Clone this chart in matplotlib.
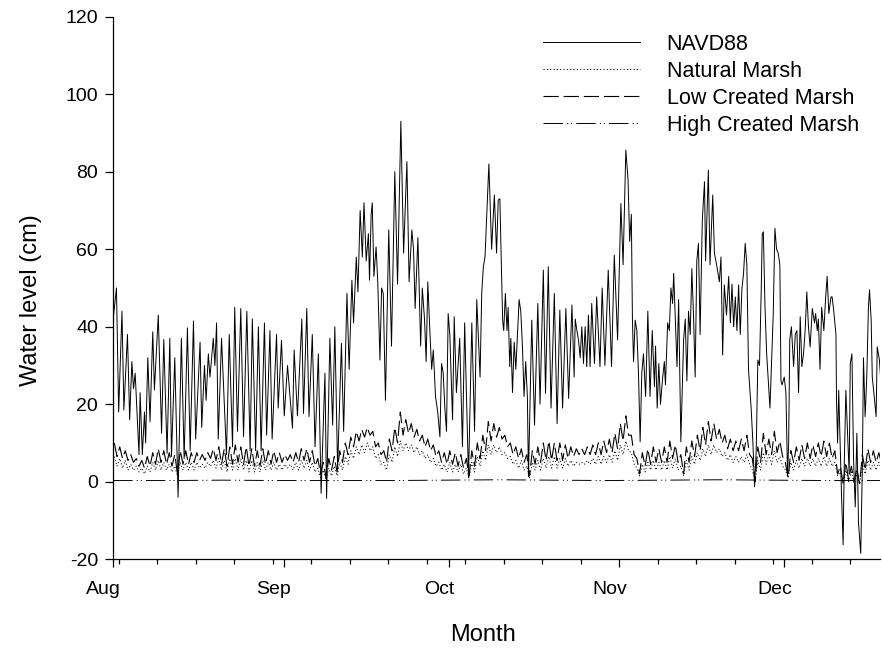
import numpy as np
import matplotlib
matplotlib.use('Agg')
import matplotlib.pyplot as plt
import matplotlib.transforms as mtransforms
from matplotlib.ticker import FixedLocator

plt.rcParams['font.family'] = ['Liberation Sans', 'DejaVu Sans']
plt.rcParams['lines.scale_dashes'] = False
plt.rcParams['axes.unicode_minus'] = False

# ---- axis data ----
month_labels = ['Aug', 'Sep', 'Oct', 'Nov', 'Dec']
month_days = [0, 31, 61, 92, 122]          # days since Aug 1
week_days = [1, 8, 15, 22, 29, 36, 43, 50, 57, 64, 71, 78, 85, 92, 99,
             106, 113, 120, 127, 134]
y_ticks = [-20, 0, 20, 40, 60, 80, 100, 120]

# ---- NAVD88 water level: turning points (day since Aug 1, cm) ----
navd_days = [
    0.0, 0.6, 1.0, 1.6, 1.95, 2.6, 3.0, 3.4, 3.7, 4.0, 4.7, 4.9, 5.3, 5.7, 5.9,
    6.3, 6.7, 7.2, 7.5, 8.2, 8.8, 9.2, 9.8, 10.3, 10.6, 11.2, 11.8, 12.4, 12.9,
    13.5, 14.0, 14.6, 15.0, 15.8, 16.1, 16.6, 16.9, 17.3, 17.6, 18.2, 18.5, 18.8,
    19.1, 19.7, 20.6, 21.1, 21.7, 22.1, 22.6, 23.2, 23.7, 24.3, 24.9, 25.3, 25.9,
    26.4, 26.9, 27.5, 27.9, 28.5, 28.9, 29.7, 30.0, 30.6, 31.1, 31.7, 32.6, 32.9,
    33.5, 34.3, 34.6, 35.2, 35.6, 36.2, 36.7, 37.3, 37.8, 38.5, 38.8, 39.4, 39.9,
    40.3, 40.8, 41.5, 41.9, 42.5, 42.9, 43.4, 43.7, 44.2, 44.5, 44.9, 45.3, 45.6,
    46.0, 46.4, 46.6, 46.9, 47.1, 47.4, 47.8, 48.1, 48.5, 48.8, 49.1, 49.5, 50.1,
    50.6, 51.2, 51.7, 52.3, 52.8, 53.4, 53.8, 54.3, 54.6, 54.9, 55.4, 55.9, 56.2,
    56.6, 56.9, 57.2, 57.6, 57.9, 58.2, 58.6, 59.0, 59.4, 59.7, 60.0, 60.3, 60.6,
    60.9, 61.2, 61.7, 62.0, 62.4, 63.0, 63.5, 63.9, 64.6, 65.2, 65.7, 66.1, 66.7,
    67.0, 67.3, 67.6, 68.3, 68.8, 69.3, 69.7, 70.0, 70.3, 70.8, 71.0, 71.3, 71.6,
    71.8, 72.1, 72.3, 72.6, 72.9, 73.2, 73.5, 73.8, 74.1, 74.4, 74.7, 75.0, 75.3,
    75.5, 76.1, 76.6, 77.2, 77.6, 78.2, 78.6, 79.1, 79.6, 80.2, 80.7, 81.2, 81.7,
    82.3, 82.8, 83.4, 83.8, 84.0, 84.3, 84.6, 84.9, 85.2, 85.5, 85.8, 86.1, 86.4,
    86.7, 87.0, 87.5, 87.9, 88.5, 88.9, 89.4, 90.0, 90.6, 91.1, 91.7, 92.3, 92.7,
    93.2, 93.6, 93.9, 94.2, 94.4, 94.6, 94.9, 95.2, 95.5, 95.8, 96.1, 96.4, 96.8,
    97.2, 97.6, 98.0, 98.4, 98.6, 98.9, 99.2, 99.5, 99.9, 100.2, 100.4, 100.8,
    101.1, 101.4, 101.7, 101.9, 102.1, 102.5, 102.8, 103.2, 103.7, 104.0, 104.3,
    104.6, 104.9, 105.2, 105.5, 105.8, 106.1, 106.4, 106.7, 107.1, 107.5, 107.7,
    108.2, 108.5, 109.0, 109.3, 109.7, 110.2, 110.5, 110.8, 111.1, 111.5, 111.9,
    112.2, 112.5, 112.8, 113.1, 113.4, 113.7, 114.0, 114.3, 114.6, 114.9, 115.2,
    115.5, 116.0, 116.3, 116.6, 116.9, 117.2, 117.5, 117.8, 118.0, 118.2, 118.5,
    118.8, 119.1, 119.4, 119.7, 120.0, 120.3, 120.6, 120.9, 121.2, 121.4, 121.6,
    122.0, 122.3, 122.6, 122.8, 123.0, 123.3, 123.7, 124.0, 124.3, 124.6, 124.9,
    125.2, 125.5, 125.8, 126.1, 126.4, 126.7, 127.1, 127.5, 127.7, 128.0, 128.2,
    128.5, 128.8, 129.2, 129.5, 129.8, 130.1, 130.5, 130.7, 131.0, 131.4, 131.5,
    131.7, 131.9, 132.2, 132.4, 132.7, 132.9, 133.2, 133.5, 133.8, 134.0, 134.3,
    134.6, 134.9, 135.2, 135.5, 135.9, 136.2, 136.4, 136.7, 137.0, 137.3, 137.5,
    137.8, 138.0, 138.3, 138.7, 138.9, 139.3, 139.6]
navd_vals = [
    42, 50, 18, 44, 18.5, 38, 16, 31, 24, 28, 7, 23, 7, 18, 10,
    32, 15.5, 38.7, 23.7, 43, 12.5, 36.7, 7.3, 37, 6.5, 32, -4, 37, 6,
    39.7, 8, 41.5, 11, 36, 14, 30, 21, 33, 27, 37, 30, 41,
    11, 37, 7, 38, 9, 45, 13, 44.7, 11.6, 44, 8, 42, 8,
    40, 8, 41, 12, 39, 11, 38, 19, 36.5, 17, 30, 13.8, 34,
    17, 42, 17.6, 44.7, 16.8, 38, 9, 33, -3, 28, -4.3, 37, 14.6,
    40, 3.4, 35.7, 13, 48.6, 29, 52, 41, 58, 49, 70, 58, 72,
    57, 64, 52, 69, 72, 53, 60.6, 51.6, 31.4, 50, 48.6, 21, 65,
    35, 80, 51, 93, 59, 82.6, 51.6, 65, 60, 44.7, 63, 35, 50,
    42, 31, 51.6, 38, 29, 34, 22, 18, 11.6, 30.5, 28, 19, 13,
    43.4, 38, 16, 42.6, 23, 37, 9, 41, 1, 41, 13, 47, 27,
    48.6, 55.5, 58, 82, 60, 74, 59, 72.7, 73, 41.7, 39, 48.6, 39,
    45, 29.7, 37, 23, 36, 29, 38, 47, 44, 35, 22, 31, 22,
    1.3, 41.7, 14.6, 46, 20, 54.6, 22.8, 55.5, 19, 48.6, 15, 44.3, 19,
    44.7, 21.5, 45.6, 27, 42, 39, 36.5, 32, 40, 30.5, 40, 29.7, 43,
    29.7, 46, 30.5, 47.7, 29.7, 50, 30, 54.6, 29.7, 58.5, 36.6, 71.8, 56,
    85.6, 78, 62, 69, 41.7, 31, 41.7, 39, 28, 10.3, 28, 33, 22,
    44, 22, 39, 24.5, 35, 19, 30.5, 20, 27, 31, 25, 41,
    39, 50, 46, 53.8, 46, 29.7, 47, 10.3, 36.6, 42, 26,
    44, 38, 55, 43, 27, 57, 61.5, 38, 67.5, 77.4, 57,
    80.4, 56, 74, 59, 56, 51.6, 58, 32.7, 50.8, 43, 53,
    41, 51, 40, 47.7, 39, 50.8, 38, 49.8, 53.8, 61.5, 56,
    29, 18.5, 10, -1.3, 8, 31.4, 30, 48.6, 64, 64.5, 45,
    33, 26, 19, 31, 43.4, 65.4, 60, 59, 56, 26, 25,
    27, 23, 1.7, 10, 36.6, 40, 29.7, 38, 39, 23, 42.6,
    29.7, 33, 39, 49, 40, 34.8, 44.7, 41, 43.4, 39, 42,
    29, 45, 39, 47, 53, 43.4, 47.7, 47.7, 44, 38, 21,
    10, 23.6, 7, -3, -16.3, 3.9, 23.6, 12.5, 2, 30.5, 33,
    5.6, -6.5, 12.5, -10.8, -18.5, 3.9, 32, 16.8, 27, 45, 49.5,
    41.7, 27, 22.8, 16.8, 34.8, 31.4, 25]

# ---- Low Created Marsh: daily high / low (cm), days 0..139 ----
lcm_high = [
    10, 9, 8, 7, 6, 5.5, 6.5, 7.5, 8.5, 8,
    7.5, 7, 8, 8, 7.5, 7.5, 7, 7.5, 8.5, 9,
    8.5, 9, 9.5, 9, 9, 8.5, 8, 8.5, 8, 8,
    7.5, 7, 7, 7.5, 8.5, 8.5, 8, 6, 5, 6,
    6.5, 8, 10, 11.5, 13, 13.5, 14, 13, 10, 8,
    11, 14, 18, 16, 15, 13.5, 12, 11, 9.5, 8,
    7.5, 8, 7.5, 7, 6, 8, 10, 12, 15.5, 15,
    14, 12, 10, 9, 8.5, 7, 8, 9, 10, 10.5,
    10, 10, 9.5, 9, 8.5, 8.5, 9, 9.5, 10, 10.5,
    11, 12.5, 15, 17, 12, 6, 7.5, 8.5, 9, 8.5,
    9, 10.5, 9.5, 7, 9, 10.5, 12, 14, 15.5, 15,
    13.5, 12, 11, 10.5, 11, 12, 6, 9, 12.5, 11,
    13, 10.5, 5, 8, 9, 9.5, 10, 9.5, 10, 10.5,
    10, 8, 4, 5, 4, 3.5, 7, 8.5, 8, 7.5]
lcm_low = [
    6.5, 6, 5.5, 5, 4, 3.5, 4, 4.5, 5, 4.5,
    4, 2, 4.5, 4.5, 5, 5.5, 5.5, 6, 5.5, 4.5,
    4, 4.5, 5, 4.5, 4, 4, 4, 4.5, 4.5, 5,
    5, 5.5, 5, 5, 5.5, 5, 4, 2, 1, 3,
    2.5, 5, 7, 9, 10.5, 11.5, 12, 9, 7, 5,
    8, 10, 12, 12.5, 11.5, 10.5, 9, 8, 6.5, 5,
    4.5, 4.5, 4, 3.5, 1.5, 4, 6, 8, 10.5, 11.5,
    11, 9, 7, 6, 5, 1.5, 4.5, 5, 5.5, 5.5,
    5.5, 5.5, 6, 6.5, 7, 7, 7, 7, 7, 7.5,
    7.5, 8.5, 10.5, 12, 7, 2, 4, 4.5, 5, 5,
    5, 6, 5, 2, 5, 6.5, 8, 9.5, 10.5, 11,
    10, 8.5, 8, 8, 8, 7, 0, 5, 7, 7,
    7.5, 6.5, 1, 5, 5.5, 6, 6, 6.5, 6.5, 6.5,
    6, 2, -0.5, 0.5, 0, -0.5, 3, 5, 5, 4.5]

# ---- Natural Marsh: daily high / low (cm), days 0..139 ----
nat_high = [
    6.5, 6, 5.5, 4.5, 4, 3.5, 4, 5, 5.5, 5,
    4.5, 4, 5, 5, 5, 5, 4.5, 5, 5.5, 6,
    5.5, 6, 6, 6, 5.5, 5.5, 5, 5.5, 5, 5,
    4.5, 4.5, 4.5, 5, 5.5, 5.5, 5, 3.5, 3, 3.5,
    4, 5, 6.5, 8, 9, 9.5, 10, 9, 7, 5,
    7, 9, 10.5, 10, 9.5, 9, 8, 7, 6, 5,
    4.5, 5, 4.5, 4.5, 3.5, 5, 6.5, 8, 9.5, 9.5,
    9, 7.5, 6.5, 5.5, 5.5, 4, 5, 5.5, 6, 6.5,
    6.5, 6, 6, 5.5, 5, 5, 5.5, 6, 6.5, 6.5,
    7, 8, 9.5, 10.5, 7.5, 3.5, 4.5, 5, 5.5, 5,
    5.5, 6.5, 6, 4, 5.5, 6.5, 7.5, 8.5, 9.5, 9.5,
    8.5, 7.5, 7, 6.5, 6.5, 7, 3, 5.5, 7.5, 7,
    8, 6.5, 3, 5, 5.5, 6, 6, 6, 6, 6.5,
    6, 5, 2.5, 3, 2.5, 2, 4.5, 5.5, 5, 5]
nat_low = [
    4, 3.5, 3, 3, 2.5, 2, 2.5, 3, 3, 3,
    2.5, 1.5, 3, 3, 3, 3.5, 3.5, 4, 3.5, 3,
    2.5, 3, 3, 3, 2.5, 2.5, 2.5, 3, 3, 3,
    3, 3.5, 3, 3, 3.5, 3, 2.5, 1, 0.5, 1.5,
    1.5, 3, 4.5, 6, 7, 7.5, 8, 6, 4.5, 3,
    5, 6.5, 8, 8, 7.5, 7, 6, 5, 4, 3,
    2.5, 2.5, 2.5, 2, 1, 2.5, 4, 5.5, 7, 7.5,
    7, 6, 4.5, 3.5, 3, 1, 3, 3, 3.5, 3.5,
    3.5, 3.5, 4, 4, 4.5, 4.5, 4.5, 4.5, 4.5, 5,
    5, 5.5, 7, 8, 4.5, 1.5, 2.5, 3, 3, 3,
    3, 3.5, 3, 1.5, 3, 4.5, 5.5, 6.5, 7, 7.5,
    6.5, 5.5, 5, 5, 5, 4.5, 0, 3, 4.5, 4.5,
    5, 4, 1, 3, 3.5, 4, 4, 4, 4, 4,
    4, 1.5, -0.5, 0, -0.5, -0.5, 2, 3, 3, 3]

# ---- High Created Marsh (cm), sampled every 10 days ----
hcm_days = [0, 10, 20, 30, 40, 50, 60, 70, 80, 90, 100, 110, 120, 130, 139.5]
hcm_vals = [0.3, 0.3, 0.4, 0.3, 0.3, 0.3, 0.4, 0.5, 0.4, 0.3, 0.4, 0.5, 0.4, 0.3, 0.3]


def daily_series(high, low):
    n = min(len(high), len(low))
    t = np.repeat(np.arange(n, dtype=float), 2) + np.tile([0.2, 0.7], n)
    v = np.column_stack([high[:n], low[:n]]).ravel()
    return t, v


n_nav = min(len(navd_days), len(navd_vals))
nat_t, nat_v = daily_series(nat_high, nat_low)
lcm_t, lcm_v = daily_series(lcm_high, lcm_low)

fig = plt.figure(figsize=(8.82, 6.51), dpi=100)
ax = fig.add_axes([0.1283, 0.141, 0.8694, 0.8333])

lw = 0.7
ax.plot(navd_days[:n_nav], navd_vals[:n_nav], color='black', lw=lw,
        label='NAVD88')
ax.plot(nat_t, nat_v, color='black', lw=lw, linestyle=(0, (0.8, 1.6)),
        label='Natural Marsh')
ax.plot(lcm_t, lcm_v, color='black', lw=0.8, linestyle=(0, (11, 3.5)),
        label='Low Created Marsh')
ax.plot(hcm_days, hcm_vals, color='black', lw=lw,
        linestyle=(0, (14, 3, 0.8, 2, 0.8, 3)), label='High Created Marsh')

ax.set_xlim(0, 139.4)
ax.set_ylim(-20, 120)
ax.set_xticks(month_days)
ax.set_xticklabels(month_labels)
ax.xaxis.set_minor_locator(FixedLocator(week_days))
ax.set_yticks(y_ticks)

for s in ['top', 'right']:
    ax.spines[s].set_visible(False)
for s in ['left', 'bottom']:
    ax.spines[s].set_linewidth(0.9)

ax.tick_params(axis='both', which='major', direction='out', length=6,
               width=0.9, labelsize=14)
ax.tick_params(axis='x', which='major', pad=10)
ax.tick_params(axis='y', which='major', pad=5)
ax.tick_params(axis='x', which='minor', direction='out', length=3.5, width=0.9)

offset = mtransforms.ScaledTranslation(-7 / 72, 0, fig.dpi_scale_trans)
for lab in ax.get_xticklabels():
    lab.set_transform(lab.get_transform() + offset)

ax.set_xlabel('Month', fontsize=17)
ax.set_ylabel('Water level (cm)', fontsize=17)
ax.xaxis.set_label_coords((483 - 113.2) / 766.8, -(624 - 559.2) / 542.5)
ax.yaxis.set_label_coords(-(113.2 - 42) / 766.8, (559.2 - 300) / 542.5)

leg = ax.legend(loc='upper left', bbox_to_anchor=(0.6156, 0.948),
                bbox_transform=fig.transFigure, frameon=False,
                fontsize=15.5, handlelength=4.5, handletextpad=1.25,
                labelspacing=0.28, borderpad=0, borderaxespad=0)

fig.savefig('out.png', dpi=100)
